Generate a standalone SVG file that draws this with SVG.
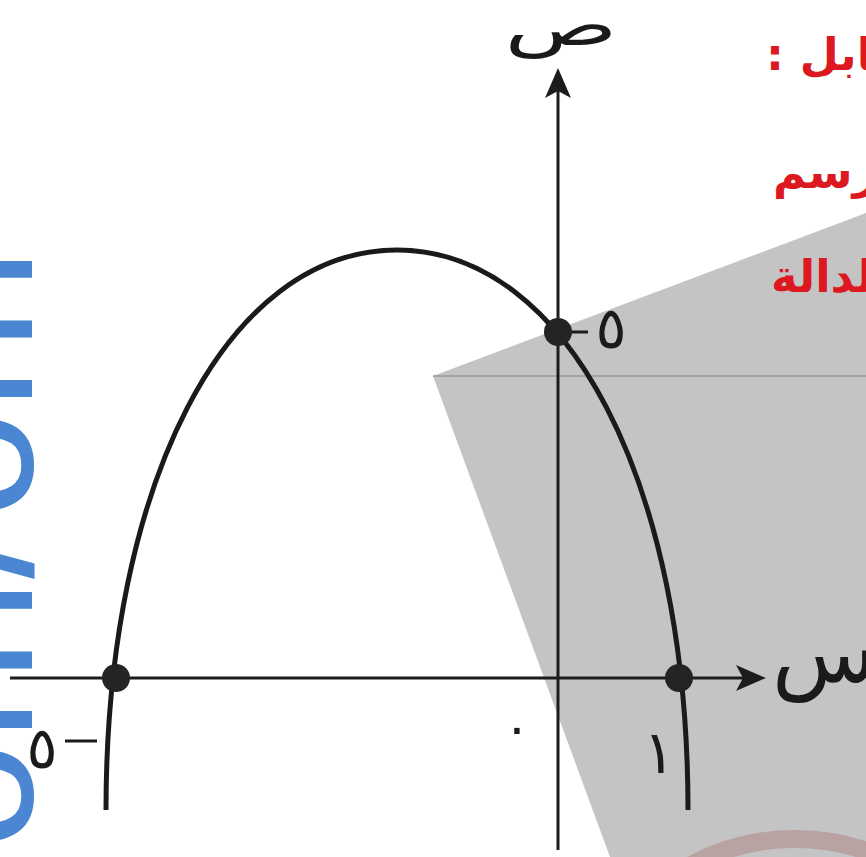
<svg xmlns="http://www.w3.org/2000/svg" width="866" height="857" viewBox="0 0 866 857">
<style>
.ax{stroke:#1c1c1c;stroke-width:3;fill:none}
.crv{stroke:#1a1a1a;stroke-width:5;fill:none;stroke-linecap:butt}
.dot{fill:#242424}
.lbl{font-family:"DejaVu Sans",sans-serif;fill:#1a1a1a}
.red{font-family:"DejaVu Sans",sans-serif;font-weight:bold;fill:#dc1820;font-size:45px}
.wm{font-family:"Liberation Sans",Arial,sans-serif;fill:#4a86d2;font-size:195px}
</style>
<rect width="866" height="857" fill="#ffffff"/>
<g id="watermark">
<text class="wm" transform="translate(32,850) rotate(-90)">om/<tspan dx="6">om</tspan></text>
</g>
<g id="shade">
<polygon points="433,376 866,213 866,857 610,857" fill="#c4c4c4"/>
<line x1="433" y1="376" x2="866" y2="376" stroke="#9a9a9a" stroke-width="1.5"/>
<path d="M 690 865.7 A 220 220 0 0 1 880 856.1" stroke="#b9a2a2" stroke-width="18" fill="none"/>
</g>
<g id="heading">
<text class="red" x="766" y="70" direction="rtl" text-anchor="end">المقابل :</text>
<text class="red" x="773" y="188" direction="rtl" text-anchor="end">ارسم</text>
<text class="red" x="771" y="292" direction="rtl" text-anchor="end">الدالة</text>
</g>
<g id="connectors">
<line class="ax" x1="558" y1="88" x2="558" y2="850"/>
<path d="M558,68 L571,98 L558,91 L545,98 Z" fill="#1c1c1c"/>
<line class="ax" x1="10" y1="678" x2="745" y2="678"/>
<path d="M766,678 L736,665 L743,678 L736,691 Z" fill="#1c1c1c"/>
<line class="ax" x1="558" y1="332" x2="588" y2="332"/>
</g>
<g id="curve">
<path class="crv" d="M 106 810 C 106 482.4 226.8 250 397 250 C 567.2 250 688 482.4 688 810"/>
</g>
<g id="pt-left"><circle class="dot" cx="116" cy="678" r="14"/></g>
<g id="pt-right"><circle class="dot" cx="679" cy="678" r="14"/></g>
<g id="pt-top"><circle class="dot" cx="558" cy="332" r="14"/></g>
<g id="labels">
<text class="lbl" font-size="80" text-anchor="middle" transform="translate(561,45) scale(1.17,0.72)">ص</text>
<text class="lbl" x="772" y="682" font-size="86">س</text>
<text class="lbl" x="611" y="348" font-size="58" text-anchor="middle">٥</text>
<text class="lbl" x="42" y="768" font-size="58" text-anchor="middle">٥</text>
<line x1="65" y1="741" x2="97" y2="741" stroke="#1a1a1a" stroke-width="3"/>
<text class="lbl" x="517" y="745" font-size="50" text-anchor="middle">٠</text>
<text class="lbl" x="659" y="773" font-size="60" text-anchor="middle">١</text>
</g>
</svg>
